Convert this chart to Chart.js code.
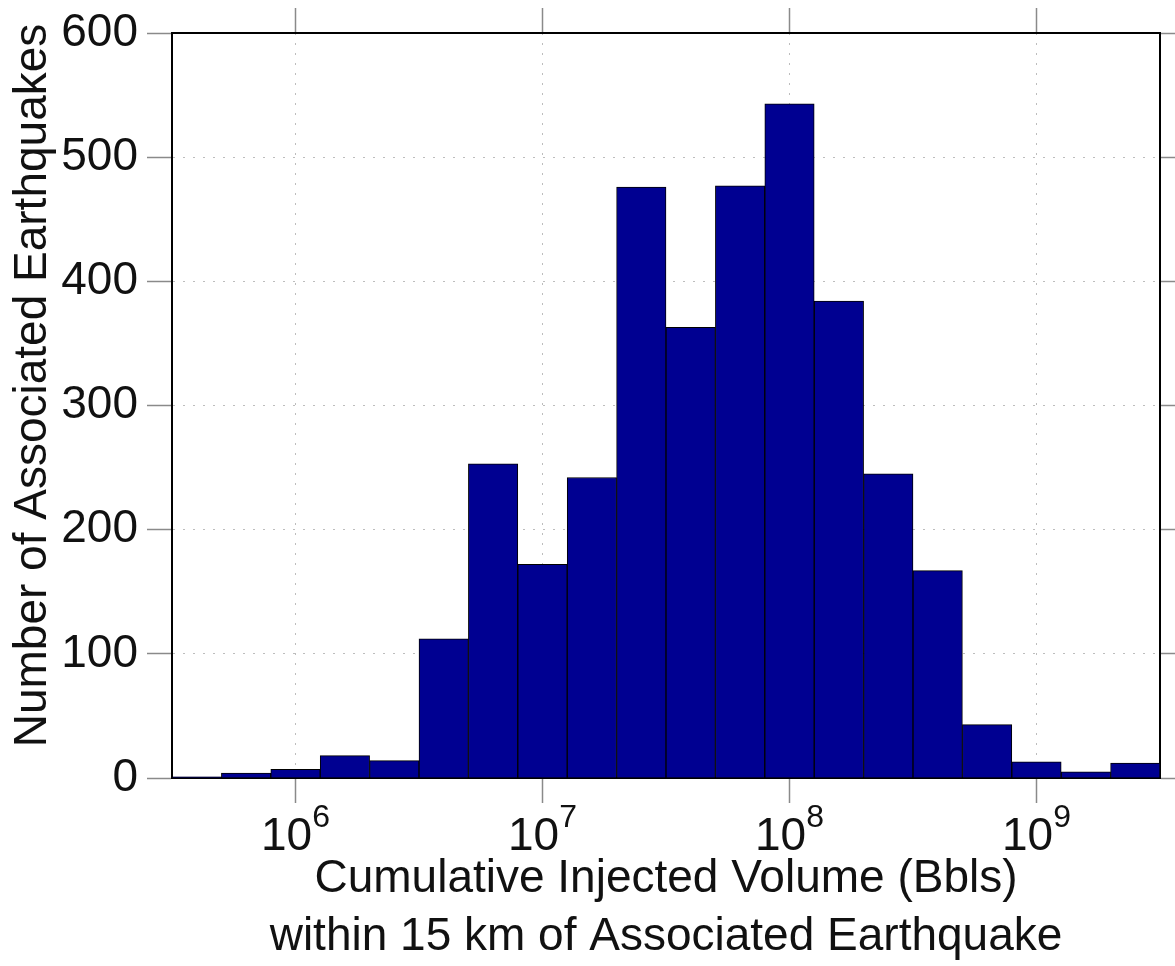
<!DOCTYPE html>
<html><head><meta charset="utf-8">
<script src="https://cdn.jsdelivr.net/npm/chart.js@4/dist/chart.umd.min.js"></script>
<style>html,body{margin:0;padding:0;background:#fff}canvas{display:block}</style>
</head><body>
<canvas id="c" width="1175" height="966"></canvas>
<script>
// log10 of cumulative injected volume (bin centres, 0.2-decade bins)
const logVolumeBinCenters = [5.6,5.8,6.0,6.2,6.4,6.6,6.8,7.0,7.2,7.4,7.6,7.8,8.0,8.2,8.4,8.6,8.8,9.0,9.2,9.4];
const earthquakeCounts   = [1,4,7,18,14,112,253,172,242,476,363,477,543,384,245,167,43,13,5,12];
const xTickExponents = [6,7,8,9];
const yTickValues = [0,100,200,300,400,500,600];
const xRange = [5.5, 9.5];
const yRange = [0, 600];
const xTitleLines = ['Cumulative Injected Volume (Bbls)', 'within 15 km of Associated Earthquake'];
const yTitle = 'Number of Associated Earthquakes';

const FONT = "'Liberation Sans', Arial, Helvetica, sans-serif";
const TICK_GRAY = '#8a8a8a';
const GRID_GRAY = '#bdbdbd';

const textPlugin = {
  id: 'textPlugin',
  afterDraw(chart) {
    const s = chart.scales.x, ctx = chart.ctx;
    ctx.save();
    ctx.fillStyle = '#111';
    ctx.textBaseline = 'alphabetic';
    ctx.textAlign = 'left';
    xTickExponents.forEach(e => {
      const px = s.getPixelForValue(e);
      ctx.font = '46px ' + FONT; const w1 = ctx.measureText('10').width;
      ctx.font = '32px ' + FONT; const w2 = ctx.measureText(String(e)).width;
      const x0 = px - (w1 + w2) / 2;
      ctx.font = '46px ' + FONT; ctx.fillText('10', x0, s.top + 72);
      ctx.font = '32px ' + FONT; ctx.fillText(String(e), x0 + w1, s.top + 49);
    });
    // y-axis title
    const ys = chart.scales.y;
    ctx.font = '46px ' + FONT;
    ctx.textAlign = 'center';
    ctx.textBaseline = 'middle';
    ctx.translate(33, (ys.top + ys.bottom) / 2 - 20);
    ctx.rotate(-Math.PI / 2);
    ctx.fillText(yTitle, 0, 0);
    ctx.restore();
  }
};

const setTicks = vals => scale => { scale.ticks = vals.map(v => ({ value: v })); };

new Chart(document.getElementById('c'), {
  type: 'bar',
  data: {
    datasets: [{
      data: logVolumeBinCenters.map((x, i) => ({ x: x, y: earthquakeCounts[i] })),
      backgroundColor: 'rgb(0,0,145)',
      borderColor: '#000',
      borderWidth: 1,
      barPercentage: 1,
      categoryPercentage: 1
    }]
  },
  plugins: [textPlugin],
  options: {
    responsive: false,
    animation: false,
    layout: { padding: 0 },
    plugins: { legend: { display: false }, tooltip: { enabled: false } },
    scales: {
      x: {
        type: 'linear', position: 'bottom', min: xRange[0], max: xRange[1],
        offset: false,
        afterBuildTicks: setTicks(xTickExponents.map(e => e)),
        afterFit: s => { s.height = 188; },
        ticks: { display: false },
        grid: { offset: false, color: GRID_GRAY, lineWidth: 1, tickColor: TICK_GRAY, tickLength: 25, tickWidth: 1.5, tickBorderDash: [] },
        border: { display: true, color: '#000', width: 2, dash: [2, 8] },
        title: { display: true, text: xTitleLines, color: '#111', font: { family: FONT, size: 46, lineHeight: 1.26 }, padding: { top: 0, bottom: 0 } }
      },
      x2: {
        type: 'linear', position: 'top', min: xRange[0], max: xRange[1],
        offset: false,
        afterBuildTicks: setTicks(xTickExponents.map(e => e)),
        afterFit: s => { s.height = 33; },
        ticks: { display: false },
        grid: { offset: false, drawOnChartArea: false, tickColor: TICK_GRAY, tickLength: 25, tickWidth: 1.5 },
        border: { display: true, color: '#000', width: 2 }
      },
      y: {
        type: 'linear', position: 'left', min: yRange[0], max: yRange[1],
        afterBuildTicks: setTicks(yTickValues),
        afterFit: s => { s.width = 172; },
        ticks: { color: '#111', font: { family: FONT, size: 46, lineHeight: 1.0 }, padding: 9, callback: v => String(v) },
        grid: { color: GRID_GRAY, lineWidth: 1, tickColor: TICK_GRAY, tickLength: 25, tickWidth: 1.5, tickBorderDash: [] },
        border: { display: true, color: '#000', width: 2, dash: [2, 8] },
        title: { display: false }
      },
      y2: {
        type: 'linear', position: 'right', min: yRange[0], max: yRange[1],
        afterBuildTicks: setTicks(yTickValues),
        afterFit: s => { s.width = 15; },
        ticks: { display: false },
        grid: { drawOnChartArea: false, tickColor: TICK_GRAY, tickLength: 25, tickWidth: 1.5 },
        border: { display: true, color: '#000', width: 2 }
      }
    }
  }
});
</script>
</body></html>
